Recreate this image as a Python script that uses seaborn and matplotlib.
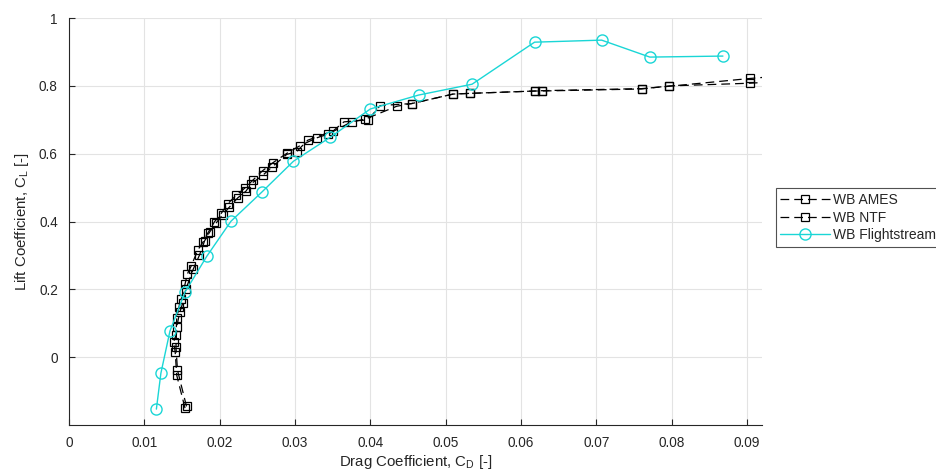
import numpy as np
import pandas as pd
import matplotlib
matplotlib.use('Agg')
import matplotlib.pyplot as plt
import seaborn as sns

# drag / lift polars
ames_cd = [0.0154, 0.0143, 0.0141, 0.0139, 0.0142, 0.0143, 0.0146, 0.0149, 0.0154, 0.0157,
           0.0162, 0.0171, 0.0178, 0.0184, 0.0193, 0.0202, 0.0211, 0.0222, 0.0233, 0.0244,
           0.0257, 0.0271, 0.0289, 0.0306, 0.0329, 0.0344, 0.0375, 0.0393, 0.0435, 0.0455,
           0.0510, 0.0532, 0.0619, 0.0628, 0.0760, 0.0797, 0.0904, 0.0960]
ames_cl = [-0.150, -0.053, 0.015, 0.045, 0.065, 0.115, 0.148, 0.172, 0.215, 0.245,
           0.268, 0.316, 0.340, 0.365, 0.399, 0.424, 0.453, 0.478, 0.498, 0.522,
           0.550, 0.574, 0.601, 0.623, 0.647, 0.658, 0.694, 0.702, 0.740, 0.748,
           0.776, 0.778, 0.785, 0.785, 0.791, 0.800, 0.808, 0.815]

ntf_cd = [0.0156, 0.0144, 0.0142, 0.0143, 0.0147, 0.0151, 0.0155, 0.0165, 0.0173, 0.0180,
          0.0187, 0.0195, 0.0204, 0.0213, 0.0224, 0.0235, 0.0242, 0.0257, 0.0269, 0.0289,
          0.0302, 0.0317, 0.0351, 0.0365, 0.0397, 0.0413, 0.0455, 0.0510, 0.0532, 0.0619,
          0.0628, 0.0760, 0.0797, 0.0904, 0.0960]
ntf_cl = [-0.145, -0.038, 0.030, 0.090, 0.132, 0.160, 0.200, 0.260, 0.300, 0.343,
          0.370, 0.395, 0.420, 0.443, 0.470, 0.490, 0.512, 0.536, 0.560, 0.598,
          0.606, 0.640, 0.668, 0.694, 0.700, 0.742, 0.748, 0.776, 0.778, 0.785,
          0.786, 0.792, 0.799, 0.822, 0.832]

fs_cd = [0.0116, 0.0122, 0.0134, 0.0154, 0.0183, 0.0215, 0.0256, 0.0298, 0.0347, 0.0400,
         0.0464, 0.0535, 0.0618, 0.0707, 0.0771, 0.0868]
fs_cl = [-0.153, -0.047, 0.077, 0.192, 0.298, 0.401, 0.487, 0.578, 0.649, 0.732,
         0.773, 0.805, 0.929, 0.935, 0.885, 0.888]

sns.set_style('whitegrid')
plt.rcParams['font.family'] = ['Liberation Sans', 'DejaVu Sans']
plt.rcParams['mathtext.fontset'] = 'custom'
plt.rcParams['mathtext.rm'] = 'Liberation Sans'

fig = plt.figure(figsize=(9.36, 4.76), dpi=100)
ax = fig.add_axes([0.0737, 0.107, 0.7405, 0.855])

sns.lineplot(x=ames_cd, y=ames_cl, sort=False, estimator=None, ax=ax, color='k', lw=0.9,
             linestyle=(0, (7, 4)), marker='s', ms=6, mfc='none', mec='k', mew=0.9,
             label='WB AMES')
sns.lineplot(x=ntf_cd, y=ntf_cl, sort=False, estimator=None, ax=ax, color='k', lw=0.9,
             linestyle=(0, (7, 4)), marker='s', ms=6, mfc='none', mec='k', mew=0.9,
             label='WB NTF')
sns.lineplot(x=fs_cd, y=fs_cl, sort=False, estimator=None, ax=ax, color='#1ad6d6', lw=1.0,
             marker='o', ms=8, mfc='none', mec='#1ad6d6', mew=1.0,
             label='WB Flightstream')

ax.set_xlim(0, 0.092)
ax.set_ylim(-0.2, 1)
ax.set_xticks(np.arange(0, 0.091, 0.01))
ax.set_xticklabels(['0', '0.01', '0.02', '0.03', '0.04', '0.05', '0.06', '0.07', '0.08', '0.09'])
ax.set_yticks([0, 0.2, 0.4, 0.6, 0.8, 1])
ax.set_yticklabels(['0', '0.2', '0.4', '0.6', '0.8', '1'])
ax.grid(True, color='#e3e3e3', lw=0.8)
for s in ['top', 'right']:
    ax.spines[s].set_visible(False)
for s in ['left', 'bottom']:
    ax.spines[s].set_color('#262626')
    ax.spines[s].set_linewidth(0.8)
ax.tick_params(direction='in', length=4, width=0.8, colors='#262626', labelsize=9.8,
               left=True, bottom=True, pad=8)

ax.set_xlabel(r'Drag Coefficient, C$_\mathregular{D}$ [-]', fontsize=10.8, color='#262626', labelpad=2)
ax.set_ylabel(r'Lift Coefficient, C$_\mathregular{L}$ [-]', fontsize=10.8, color='#262626', labelpad=6)

leg = ax.legend(loc='center left', bbox_to_anchor=(1.0195, 0.51), frameon=True, fancybox=False,
                fontsize=10, handlelength=3.6, borderpad=0.35, labelspacing=0.25,
                handletextpad=0.2, borderaxespad=0)
leg.get_frame().set_edgecolor('#262626')
leg.get_frame().set_linewidth(0.8)

fig.savefig('out.png', dpi=100)
